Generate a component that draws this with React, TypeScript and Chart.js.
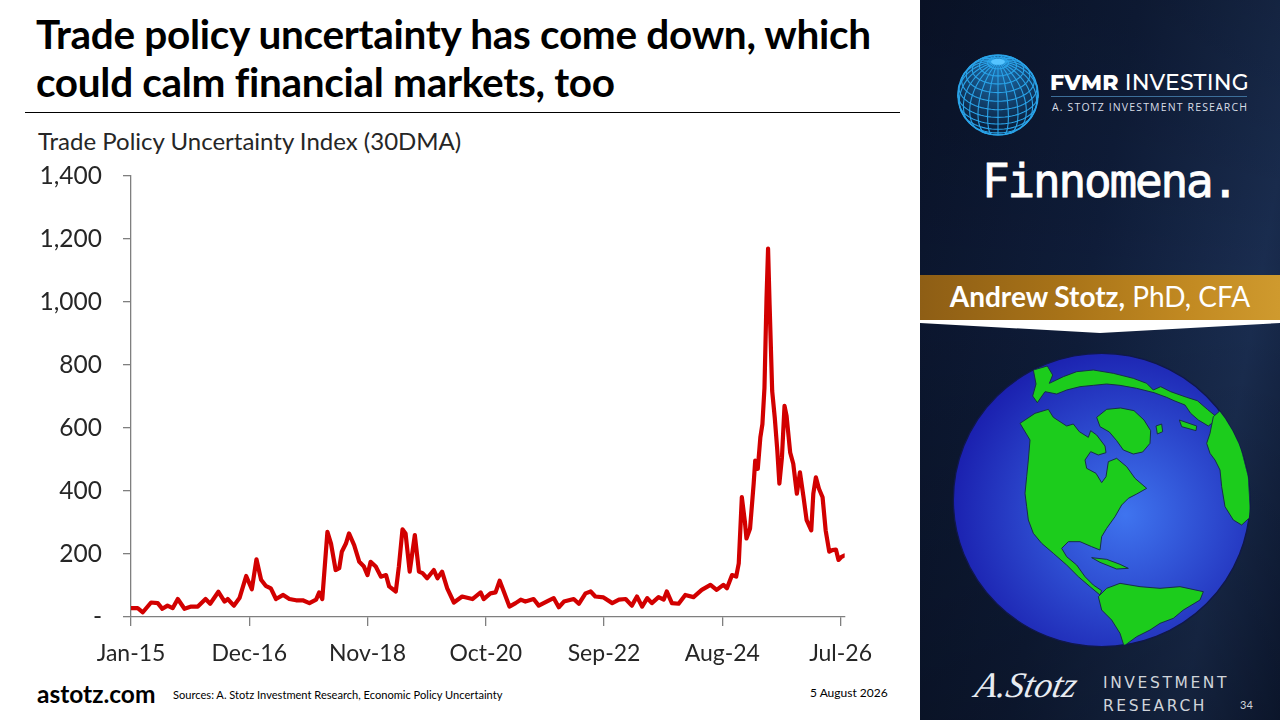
import React, { useEffect, useRef } from "react";
import { Chart, registerables } from "chart.js";

Chart.register(...registerables);

// Months since Jan-2015 for each reading, and the Trade Policy Uncertainty Index (30DMA)
const monthOffsets = [
  0, 1.3, 2.3, 3.9, 5.2, 6.1, 7.1, 8.1, 9.1, 10.4, 11.7, 13.0, 14.5, 15.4, 17.0, 18.2, 18.8, 20.0,
  21.1, 22.4, 23.5, 24.4, 25.3, 26.2, 27.2, 28.2, 29.6, 30.8, 32.1, 33.4, 34.7, 36.0, 36.6, 37.2,
  38.2, 38.9, 39.8, 40.5, 41.0, 41.8, 42.4, 43.4, 44.4, 45.3, 46.0, 46.6, 47.6, 48.6, 49.6, 50.2,
  51.5, 52.1, 52.8, 53.4, 54.2, 55.2, 56.0, 56.7, 57.6, 58.9, 59.6, 60.5, 61.5, 62.8, 64.4, 66.4,
  68.0, 68.6, 69.9, 70.9, 71.7, 72.5, 73.6, 74.8, 75.8, 76.7, 78.3, 79.3, 81.3, 82.2, 83.2, 84.2,
  86.1, 87.1, 88.4, 89.4, 90.3, 91.9, 93.6, 94.9, 96.2, 97.4, 98.4, 99.4, 100.4, 101.3, 102.6,
  103.6, 104.2, 105.2, 106.5, 107.8, 109.4, 111.0, 112.7, 113.9, 115.2, 115.9, 116.9, 117.7, 118.2,
  118.8, 119.4, 119.7, 120.4, 121.1, 121.4, 121.9, 122.4, 122.8, 123.2, 123.6, 123.9, 124.2, 124.7,
  125.2, 125.7, 126.1, 126.6, 127.1, 127.5, 128.2, 128.8, 129.5, 130.1, 130.8, 131.4, 132.3, 132.7,
  133.2, 133.8, 134.5, 135.1, 135.8, 136.4, 137.1, 137.6, 138.2, 138.7,
];
const tpuValues = [
  28, 28, 15, 46, 44, 26, 36, 28, 57, 26, 33, 33, 57, 42, 80, 49, 57, 36,
  60, 130, 88, 183, 118, 99, 91, 57, 70, 57, 53, 53, 44, 55, 78, 57,
  270, 233, 149, 155, 207, 233, 265, 228, 175, 160, 133, 175, 160, 128, 133, 97,
  81, 160, 278, 265, 144, 260, 144, 139, 123, 149, 123, 144, 91, 46, 65, 57,
  78, 57, 75, 78, 115, 81, 33, 44, 55, 49, 57, 36, 53, 60, 31, 49,
  57, 42, 75, 81, 65, 62, 44, 55, 57, 36, 65, 33, 60, 44, 63,
  55, 81, 44, 42, 70, 63, 86, 102, 86, 102, 91, 133, 128, 170,
  380, 301, 249, 281, 423, 496, 470, 570, 612, 727, 1011, 1169, 990, 717,
  633, 528, 423, 507, 670, 638, 522, 486, 391, 459, 380, 307, 275, 391,
  443, 407, 380, 275, 207, 212, 214, 181, 191, 195,
];

const xTickMonths = [0, 23, 46, 69, 92, 115, 138];
const xTickLabels = ["Jan-15", "Dec-16", "Nov-18", "Oct-20", "Sep-22", "Aug-24", "Jul-26"];
const yTickValues = [0, 200, 400, 600, 800, 1000, 1200, 1400];

const AXIS_FONT = "Lato, 'Open Sans', sans-serif";

function TpuChart() {
  const ref = useRef<HTMLCanvasElement>(null);
  useEffect(() => {
    if (!ref.current) return;
    const chart = new Chart(ref.current, {
      type: "line",
      data: {
        datasets: [
          {
            data: monthOffsets.map((m, i) => ({ x: m, y: tpuValues[i] })),
            borderColor: "#d20000",
            borderWidth: 4.2,
            pointRadius: 0,
            tension: 0,
            borderJoinStyle: "round",
            borderCapStyle: "round",
          },
        ],
      },
      options: {
        animation: false,
        responsive: false,
        layout: { padding: { top: 0, right: 0, bottom: 0, left: 0 } },
        plugins: { legend: { display: false }, tooltip: { enabled: false } },
        scales: {
          x: {
            type: "linear",
            min: 0,
            max: 138.8,
            afterBuildTicks: (scale: any) => {
              scale.ticks = xTickMonths.map((v) => ({ value: v }));
            },
            afterFit: (scale: any) => {
              scale.height = 60;
            },
            ticks: {
              autoSkip: false,
              maxRotation: 0,
              padding: 14,
              color: "#262626",
              font: { family: AXIS_FONT, size: 23 },
              callback: (v: any) => {
                const i = xTickMonths.indexOf(Number(v));
                return i >= 0 ? xTickLabels[i] : "";
              },
            },
            grid: { drawOnChartArea: false, drawTicks: true, tickLength: 9, color: "#7f7f7f", lineWidth: 1.3 },
            border: { display: true, color: "#7f7f7f", width: 1.3 },
          },
          y: {
            min: 0,
            max: 1400,
            afterBuildTicks: (scale: any) => {
              scale.ticks = yTickValues.map((v) => ({ value: v }));
            },
            afterFit: (scale: any) => {
              scale.width = 111;
            },
            ticks: {
              padding: 21,
              color: "#262626",
              font: { family: AXIS_FONT, size: 24.5 },
              callback: (v: any) => (Number(v) === 0 ? "-" : Number(v).toLocaleString("en-US")),
            },
            grid: { drawOnChartArea: false, drawTicks: true, tickLength: 8, color: "#7f7f7f", lineWidth: 1.3 },
            border: { display: true, color: "#7f7f7f", width: 1.3 },
          },
        },
      },
    } as any);
    return () => chart.destroy();
  }, []);
  return (
    <canvas
      ref={ref}
      width={866}
      height={537}
      style={{ position: "absolute", left: 20, top: 140, width: 866, height: 537 }}
    />
  );
}

function LogoGlobe() {
  const cx = 998, cy = 95, R = 40;
  const alpha = (34 * Math.PI) / 180;
  const proj = (lat: number, lon: number) => {
    const x = Math.cos(lat) * Math.sin(lon);
    const y = Math.sin(lat);
    const z = Math.cos(lat) * Math.cos(lon);
    const y2 = y * Math.cos(alpha) - z * Math.sin(alpha);
    const z2 = y * Math.sin(alpha) + z * Math.cos(alpha);
    return { X: cx + R * x, Y: cy - R * y2, front: z2 > -0.05 };
  };
  const paths: string[] = [];
  for (let latDeg = -75; latDeg <= 75; latDeg += 12.5) {
    let d = "";
    let pen = false;
    for (let lonDeg = -180; lonDeg <= 180; lonDeg += 5) {
      const p = proj((latDeg * Math.PI) / 180, (lonDeg * Math.PI) / 180);
      if (p.front) {
        d += `${pen ? "L" : "M"}${p.X.toFixed(1)},${p.Y.toFixed(1)} `;
        pen = true;
      } else pen = false;
    }
    paths.push(d);
  }
  for (let lonDeg = -180; lonDeg < 180; lonDeg += 15) {
    let d = "";
    let pen = false;
    for (let latDeg = -90; latDeg <= 90; latDeg += 5) {
      const p = proj((latDeg * Math.PI) / 180, (lonDeg * Math.PI) / 180);
      if (p.front) {
        d += `${pen ? "L" : "M"}${p.X.toFixed(1)},${p.Y.toFixed(1)} `;
        pen = true;
      } else pen = false;
    }
    paths.push(d);
  }
  const pole = proj(Math.PI / 2, 0);
  return (
    <svg width={1280} height={720} style={{ position: "absolute", left: 0, top: 0, pointerEvents: "none" }}>
      <defs>
        <radialGradient id="lg" cx="50%" cy="20%" r="70%">
          <stop offset="0%" stopColor="#1d6fae" />
          <stop offset="100%" stopColor="#0b2240" />
        </radialGradient>
      </defs>
      <circle cx={cx} cy={cy} r={R} fill="url(#lg)" stroke="#2aa3e8" strokeWidth={1.6} />
      {paths.map((d, i) => (
        <path key={i} d={d} fill="none" stroke="#2aa3e8" strokeWidth={1.1} />
      ))}
      <ellipse cx={pole.X} cy={pole.Y} rx={7} ry={3} fill="#55c4ff" />
    </svg>
  );
}

function Earth() {
  // drawn in a 1080x1200 box mapped on x 920..1280, y 320..720
  const na =
    "M300,310 L345,280 L385,268 L400,292 L440,318 L460,312 L478,335 L505,352 L512,332 L530,345 L555,378 L558,398 L535,405 L512,395 L495,420 L500,445 L528,460 L545,488 L558,470 L565,425 L590,415 L620,440 L645,475 L680,505 L650,522 L625,535 L605,555 L585,590 L560,625 L545,650 L540,690 L515,680 L480,665 L445,665 L425,685 L440,710 L470,735 L495,770 L520,795 L545,812 L540,825 L510,800 L475,770 L440,735 L400,700 L365,670 L340,640 L325,600 L320,560 L315,520 L320,470 L325,420 L330,360 Z";
  const sa =
    "M535,830 L560,805 L600,790 L660,800 L720,805 L780,800 L850,815 L840,840 L790,870 L760,895 L720,910 L690,930 L650,950 L612,978 L600,940 L575,900 L545,870 Z";
  const arctic =
    "M340,150 L382,138 L398,165 L388,190 L430,170 L470,155 L520,150 L580,160 L640,175 L680,190 L700,210 L722,200 L752,215 L800,232 L832,242 L862,268 L895,295 L865,318 L835,300 L812,280 L795,255 L762,242 L740,232 L702,218 L650,205 L600,196 L560,192 L520,196 L480,200 L440,210 L410,222 L375,215 L352,248 L338,228 L348,192 Z";
  const east =
    "M880,290 L905,268 L932,300 L962,380 L985,470 L992,590 L965,615 L940,600 L915,560 L905,500 L900,450 L885,420 L870,400 L860,370 L870,340 Z";
  const bigIsland =
    "M530,292 L560,268 L602,264 L642,272 L672,300 L692,332 L690,370 L668,396 L640,402 L610,390 L590,362 L568,336 L540,320 Z";
  const misc =
    "M708,318 L725,312 L728,335 L712,342 Z M515,713 L560,718 L600,733 L625,745 L590,747 L540,727 Z M778,300 L830,318 L828,332 L785,320 Z";
  return (
    <svg
      viewBox="0 0 1080 1200"
      width={360}
      height={400}
      style={{ position: "absolute", left: 920, top: 320 }}
    >
      <defs>
        <radialGradient id="eg" cx="58%" cy="55%" r="60%">
          <stop offset="0%" stopColor="#3f74ef" />
          <stop offset="100%" stopColor="#1a1fae" />
        </radialGradient>
        <clipPath id="ec">
          <ellipse cx={545} cy={540} rx={445} ry={440} />
        </clipPath>
      </defs>
      <ellipse cx={545} cy={540} rx={445} ry={440} fill="url(#eg)" stroke="#10184a" strokeWidth={4} />
      <g clipPath="url(#ec)" fill="#1ccc1c" stroke="#17304a" strokeWidth={3} strokeLinejoin="round">
        <path d={arctic} />
        <path d={east} />
        <path d={na} />
        <path d={sa} />
        <path d={bigIsland} />
        <path d={misc} />
      </g>
    </svg>
  );
}

export default function App() {
  return (
    <div
      style={{
        position: "fixed",
        left: 0,
        top: 0,
        width: 1280,
        height: 720,
        overflow: "hidden",
        background: "#ffffff",
        fontFamily: AXIS_FONT,
      }}
    >
      {/* Title */}
      <div
        style={{
          position: "absolute",
          left: 36,
          top: 10,
          width: 900,
          fontFamily: "Lato, sans-serif",
          fontWeight: 700,
          fontSize: 40.5,
          lineHeight: "48px",
          color: "#000",
          letterSpacing: -0.3,
          whiteSpace: "nowrap",
        }}
      >
        Trade policy uncertainty has come down, which
        <br />
        could calm financial markets, too
      </div>
      <div style={{ position: "absolute", left: 25, top: 112, width: 875, height: 1.3, background: "#000" }} />

      {/* Axis title */}
      <div
        style={{
          position: "absolute",
          left: 38,
          top: 126,
          fontSize: 24,
          color: "#262626",
          whiteSpace: "nowrap",
        }}
      >
        Trade Policy Uncertainty Index (30DMA)
      </div>

      <TpuChart />

      {/* Footer */}
      <div style={{ position: "absolute", left: 37, top: 679, fontSize: 24.5, fontWeight: 700, color: "#000" }}>
        astotz.com
      </div>
      <div style={{ position: "absolute", left: 173, top: 688, fontSize: 11.1, color: "#000", whiteSpace: "nowrap" }}>
        Sources: A. Stotz Investment Research, Economic Policy Uncertainty
      </div>
      <div style={{ position: "absolute", left: 810, top: 685, fontSize: 12, color: "#000", whiteSpace: "nowrap" }}>
        5 August 2026
      </div>

      {/* Right panel */}
      <div
        style={{
          position: "absolute",
          left: 920,
          top: 0,
          width: 360,
          height: 720,
          background:
            "linear-gradient(100deg, #0a142b 0%, #0f1d3a 45%, #1a2d50 80%, #0f1c38 100%)",
        }}
      >
        <div
          style={{
            position: "absolute",
            inset: 0,
            background: "linear-gradient(180deg, rgba(0,0,0,0.15) 0%, rgba(0,0,0,0) 40%, rgba(0,0,0,0.25) 100%)",
          }}
        />
        <div
          style={{
            position: "absolute",
            left: 130,
            top: 69,
            fontFamily: "Montserrat, 'Open Sans', sans-serif",
            fontSize: 22,
            color: "#ffffff",
            whiteSpace: "nowrap",
            letterSpacing: 0.2,
          }}
        >
          <span style={{ fontWeight: 800 }}>FVMR</span> <span style={{ fontWeight: 500 }}>INVESTING</span>
        </div>
        <div style={{ position: "absolute", left: 131, top: 96, width: 196, height: 1, background: "#3d6f9a" }} />
        <div
          style={{
            position: "absolute",
            left: 132,
            top: 100,
            fontFamily: "'Open Sans', sans-serif",
            fontSize: 10.5,
            color: "#d8dde6",
            whiteSpace: "nowrap",
            letterSpacing: 1.15,
          }}
        >
          A. STOTZ INVESTMENT RESEARCH
        </div>
        <div
          style={{
            position: "absolute",
            left: 62,
            top: 154,
            fontFamily: "'DejaVu Sans Mono', monospace",
            fontSize: 46,
            color: "#ffffff",
            whiteSpace: "nowrap",
            letterSpacing: -2.2,
            WebkitTextStroke: "0.8px #ffffff",
          }}
        >
          Finnomena.
        </div>
        {/* gold bar */}
        <div
          style={{
            position: "absolute",
            left: 0,
            top: 275,
            width: 360,
            height: 46,
            background: "linear-gradient(90deg, #8e5e15 0%, #a87318 40%, #c28a22 75%, #cf9a2e 100%)",
          }}
        />
        <div
          style={{
            position: "absolute",
            left: 0,
            top: 279,
            width: 360,
            textAlign: "center",
            fontSize: 28,
            color: "#ffffff",
            whiteSpace: "nowrap",
          }}
        >
          <span style={{ fontWeight: 700 }}>Andrew Stotz,</span> PhD, CFA
        </div>
        <svg width={360} height={20} style={{ position: "absolute", left: 0, top: 320 }}>
          <path d="M0,0 L360,0 L360,3 L180,13 L0,3 Z" fill="#ffffff" />
        </svg>
        {/* bottom brand */}
        <div
          style={{
            position: "absolute",
            left: 56,
            top: 664,
            fontFamily: "'Liberation Serif', serif",
            fontStyle: "italic",
            fontSize: 36,
            color: "#e8ecf2",
            whiteSpace: "nowrap",
            transform: "skewX(-12deg)",
          }}
        >
          A.Stotz
        </div>
        <div
          style={{
            position: "absolute",
            left: 183,
            top: 672,
            fontFamily: "'DejaVu Sans', sans-serif",
            fontSize: 15.5,
            lineHeight: "23px",
            color: "#d0d4da",
            whiteSpace: "nowrap",
            letterSpacing: 2.6,
          }}
        >
          INVESTMENT
          <br />
          RESEARCH
        </div>
        <div style={{ position: "absolute", left: 320, top: 698, fontSize: 11, color: "#d0d4da" }}>34</div>
      </div>

      <Earth />
      <LogoGlobe />
    </div>
  );
}
